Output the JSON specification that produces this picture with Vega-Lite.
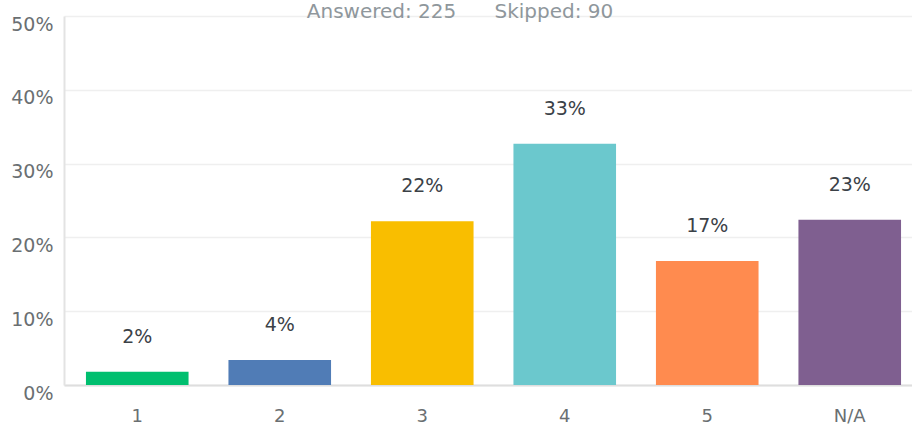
{
  "$schema": "https://vega.github.io/schema/vega-lite/v6.json",
  "autosize": "none",
  "width": 848,
  "height": 369,
  "padding": {"left": 64, "top": 16, "right": 0, "bottom": 47},
  "background": "white",
  "title": {
    "text": "Answered: 225\u00a0\u00a0\u00a0\u00a0\u00a0\u00a0Skipped: 90",
    "anchor": "middle",
    "frame": "group",
    "baseline": "alphabetic",
    "offset": -23,
    "dx": -28,
    "font": "DejaVu Sans",
    "fontSize": 20,
    "fontWeight": "normal",
    "color": "#8f979c"
  },
  "data": {
    "values": [
      {"answer": "1", "pct": 1.8, "label": "2%"},
      {"answer": "2", "pct": 3.4, "label": "4%"},
      {"answer": "3", "pct": 22.2, "label": "22%"},
      {"answer": "4", "pct": 32.7, "label": "33%"},
      {"answer": "5", "pct": 16.8, "label": "17%"},
      {"answer": "N/A", "pct": 22.4, "label": "23%"}
    ]
  },
  "encoding": {
    "x": {
      "field": "answer",
      "type": "nominal",
      "sort": null,
      "scale": {"paddingInner": 0.28, "paddingOuter": 0.1155, "align": 0.667},
      "axis": {
        "title": null,
        "labelAngle": 0,
        "ticks": false,
        "domainColor": "#dedede",
        "domainWidth": 2,
        "labelPadding": 22,
        "labelFont": "DejaVu Sans",
        "labelFontSize": 18,
        "labelColor": "#6a6f72",
        "grid": false
      }
    },
    "y": {
      "field": "pct",
      "type": "quantitative",
      "scale": {"domain": [0, 50], "nice": false},
      "axis": {
        "title": null,
        "values": [0, 10, 20, 30, 40, 50],
        "labelExpr": "datum.value + '%'",
        "ticks": false,
        "domainColor": "#e3e3e3",
        "domainWidth": 2,
        "gridColor": "#efefef",
        "gridWidth": 1.5,
        "labelPadding": 11,
        "labelOffset": 8,
        "labelFont": "DejaVu Sans",
        "labelFontSize": 19,
        "labelColor": "#6a6f72"
      }
    }
  },
  "layer": [
    {
      "mark": {"type": "bar"},
      "encoding": {
        "color": {
          "field": "answer",
          "type": "nominal",
          "sort": null,
          "scale": {
            "domain": ["1", "2", "3", "4", "5", "N/A"],
            "range": ["#00bf6f", "#507cb6", "#f9be00", "#6bc8cd", "#ff8b4f", "#7f5f90"]
          },
          "legend": null
        }
      }
    },
    {
      "mark": {
        "type": "text",
        "baseline": "middle",
        "dy": -35,
        "font": "DejaVu Sans",
        "fontSize": 19,
        "color": "#3b4147"
      },
      "encoding": {
        "text": {"field": "label"}
      }
    }
  ],
  "config": {
    "view": {"stroke": null}
  }
}
